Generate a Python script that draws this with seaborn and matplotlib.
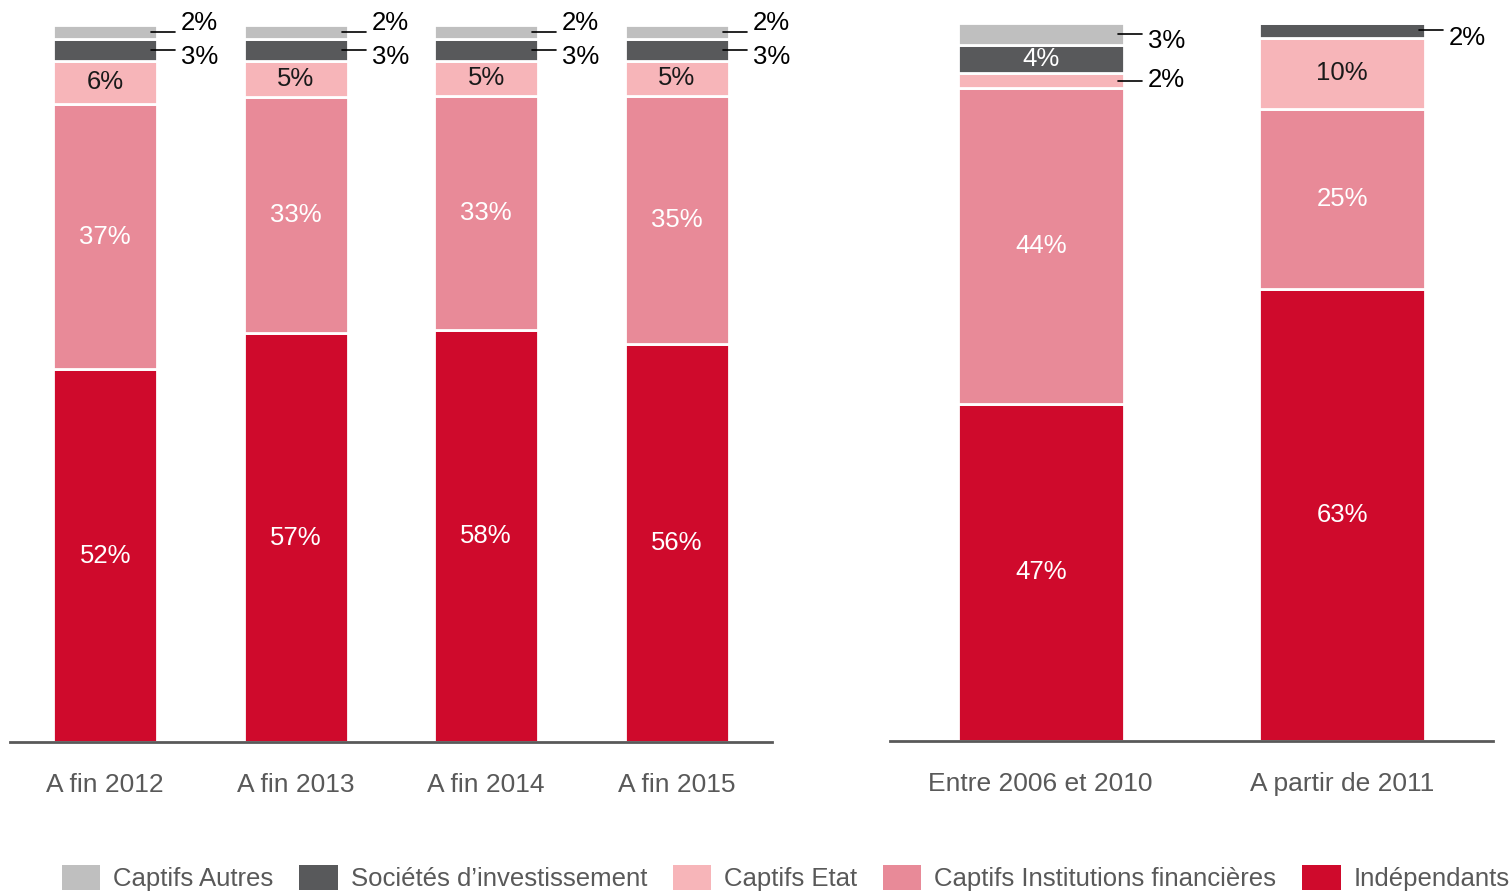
import numpy as np
import seaborn as sns
import matplotlib.pyplot as plt
from matplotlib.patches import Patch

# Data (bottom to top of each stacked bar)
series_names = ['Indépendants', 'Captifs Institutions financières', 'Captifs Etat',
                'Sociétés d\u2019investissement', 'Captifs Autres']
colors = ['#CF0A2C', '#E88A98', '#F7B5B9', '#58595B', '#BFBFBF']
label_colors = ['white', 'white', '#1a1a1a', 'white', '#1a1a1a']

cats_left = ['A fin 2012', 'A fin 2013', 'A fin 2014', 'A fin 2015']
independants_left = [52, 57, 58, 56]
institutions_left = [37, 33, 33, 35]
etat_left = [6, 5, 5, 5]
societes_left = [3, 3, 3, 3]
autres_left = [2, 2, 2, 2]

cats_right = ['Entre 2006 et 2010', 'A partir de 2011']
independants_right = [47, 63]
institutions_right = [44, 25]
etat_right = [2, 10]
societes_right = [4, 2]
autres_right = [3, 0]

sns.set_style('white')
plt.rcParams['font.family'] = ['Liberation Sans', 'DejaVu Sans']

fig = plt.figure(figsize=(15.11, 8.93), dpi=100)
ax_l = fig.add_axes([0.0066, 0.169, 0.5043, 0.803])
ax_r = fig.add_axes([0.589, 0.170, 0.399, 0.804])

# vertical pixel offsets for outside labels
text_shift_left = {3: -7, 4: 9}
text_shift_right = {(0, 4): -7, (0, 2): 1, (1, 3): -8}


def draw_panel(ax, cats, values, width, shift):
    vals = np.array(values, dtype=float)
    vals = vals / vals.sum(axis=0) * 100
    bottoms = np.zeros(len(cats))
    for i, name in enumerate(series_names):
        sns.barplot(x=cats, y=vals[i], bottom=bottoms, color=colors[i], width=width,
                    edgecolor='white', linewidth=2, saturation=1, ax=ax)
        bottoms = bottoms + vals[i]
    ax.set_ylim(0, 100)
    ax.set_xlim(-0.5, len(cats) - 0.5)

    # pixel -> data conversions
    bb = ax.get_position()
    ax_w = bb.width * fig.get_figwidth() * fig.dpi
    ax_h = bb.height * fig.get_figheight() * fig.dpi
    ux = len(cats) / ax_w
    uy = 100 / ax_h

    raw = np.array(values)
    base = np.zeros(len(cats))
    for i in range(len(series_names)):
        for j in range(len(cats)):
            h = vals[i][j]
            if raw[i][j] == 0:
                continue
            yc = base[j] + h / 2
            txt = f'{raw[i][j]}%'
            if raw[i][j] >= 4:
                ax.text(j, yc, txt, ha='center', va='center', fontsize=18.5,
                        color=label_colors[i])
            else:
                right = j + width / 2
                ax.plot([right - 6 * ux, right + 18 * ux], [yc, yc], color='black',
                        lw=1.2, clip_on=False)
                dy = shift(j, i)
                ax.text(right + 24 * ux, yc + dy * uy, txt, ha='left', va='center',
                        fontsize=18.5, color='black', clip_on=False)
        base = base + vals[i]

    for s in ['top', 'left', 'right']:
        ax.spines[s].set_visible(False)
    ax.spines['bottom'].set_color('#595959')
    ax.spines['bottom'].set_linewidth(2)
    ax.set_yticks([])
    ax.set_xlabel('')
    ax.set_ylabel('')
    ax.tick_params(axis='x', length=0, pad=22, labelsize=19, labelcolor='#595959')


draw_panel(ax_l, cats_left,
           [independants_left, institutions_left, etat_left, societes_left, autres_left],
           0.545, lambda j, i: text_shift_left.get(i, 0))
draw_panel(ax_r, cats_right,
           [independants_right, institutions_right, etat_right, societes_right, autres_right],
           0.55, lambda j, i: text_shift_right.get((j, i), 0))

handles = [Patch(facecolor=colors[i], edgecolor='none', label=series_names[i])
           for i in reversed(range(len(series_names)))]
leg = fig.legend(handles=handles, loc='lower center', bbox_to_anchor=(0.52, -0.024),
                 ncol=5, frameon=False, fontsize=18.5, handlelength=1.5,
                 handleheight=1.1, handletextpad=0.5, columnspacing=1.0)
for t in leg.get_texts():
    t.set_color('#595959')

fig.savefig('out.png', dpi=100)
